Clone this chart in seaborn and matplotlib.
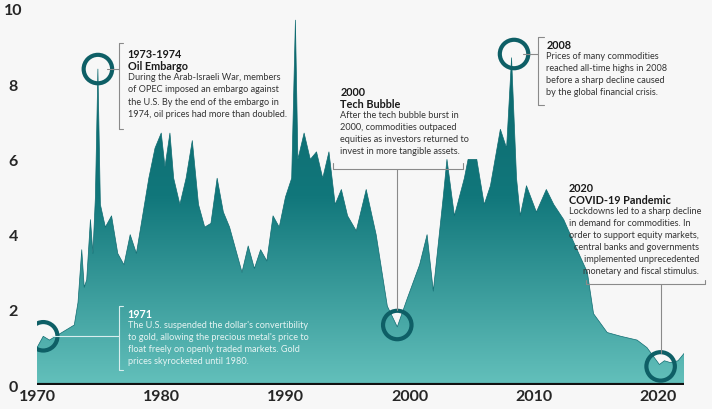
import numpy as np
import matplotlib.pyplot as plt
import seaborn as sns
from matplotlib.colors import LinearSegmentedColormap

# estimated index values
anos = [1970.0, 1970.5, 1971.0, 1971.5, 1972.0, 1972.5, 1973.0, 1973.3, 1973.6, 1973.8, 1974.0, 1974.3,
        1974.5, 1974.7, 1974.9, 1975.1, 1975.5, 1976.0, 1976.5, 1977.0, 1977.5, 1978.0, 1978.5,
        1979.0, 1979.5, 1980.0, 1980.3, 1980.7, 1981.0, 1981.5, 1982.0, 1982.5, 1983.0, 1983.5,
        1984.0, 1984.5, 1985.0, 1985.5, 1986.0, 1986.5, 1987.0, 1987.5, 1988.0, 1988.5, 1989.0,
        1989.5, 1990.0, 1990.5, 1990.8, 1991.0, 1991.5, 1992.0, 1992.5, 1993.0, 1993.5, 1994.0,
        1994.5, 1995.0, 1995.7, 1996.5, 1997.3, 1998.2, 1999.0, 1999.8, 2000.8, 2001.4, 2001.9,
        2002.7, 2003.0, 2003.6, 2004.4, 2004.7, 2005.4, 2006.0, 2006.5, 2007.3, 2007.8, 2008.2,
        2008.6, 2008.9, 2009.4, 2010.2, 2011.0, 2011.6, 2012.4, 2013.2, 2014.3, 2014.8, 2015.9,
        2017.0, 2018.3, 2019.1, 2020.1, 2020.5, 2021.0, 2021.6, 2022.1]
valores = [1.0, 1.3, 1.2, 1.3, 1.4, 1.5, 1.6, 2.2, 3.6, 2.6, 2.8, 4.4,
           3.5, 5.0, 8.4, 4.8, 4.2, 4.5, 3.5, 3.2, 4.0, 3.5, 4.5,
           5.5, 6.3, 6.7, 5.8, 6.7, 5.5, 4.8, 5.5, 6.5, 4.8, 4.2,
           4.3, 5.5, 4.6, 4.2, 3.6, 3.0, 3.7, 3.1, 3.6, 3.3, 4.5,
           4.2, 5.0, 5.5, 9.7, 6.0, 6.7, 6.0, 6.2, 5.5, 6.2, 4.8,
           5.2, 4.5, 4.1, 5.2, 4.0, 2.1, 1.55, 2.3, 3.2, 4.0, 2.5,
           5.0, 6.0, 4.5, 5.5, 6.0, 6.0, 4.8, 5.3, 6.8, 6.3, 8.7,
           5.5, 4.5, 5.3, 4.6, 5.2, 4.8, 4.4, 3.8, 3.0, 1.9, 1.4,
           1.3, 1.2, 1.0, 0.55, 0.65, 0.6, 0.65, 0.85]
ticks_x = [1970, 1980, 1990, 2000, 2010, 2020]
ticks_y = [0, 2, 4, 6, 8, 10]

escuro = "#0e5f66"
sns.set_theme(style="white", font="Lato")
fig = plt.figure(figsize=(7.12, 4.10), dpi=100, facecolor="#f7f7f7")
ax = fig.add_axes([0.052, 0.058, 0.909, 0.918])
ax.set_facecolor("#f7f7f7")
ax.set_xlim(1970, 2022.1)
ax.set_ylim(0, 10)

# area com gradiente
poligono = ax.fill_between(anos, valores, 0, color="none")
grad = np.linspace(0, 1, 256).reshape(-1, 1)
cmap = LinearSegmentedColormap.from_list("teal", ["#63c0bb", "#11777b", "#0c6469"])
img = ax.imshow(grad, cmap=cmap, extent=[1970, 2022.1, 0, 10], origin="lower", aspect="auto", zorder=1)
img.set_clip_path(poligono.get_paths()[0], transform=ax.transData)
sns.lineplot(x=anos, y=valores, ax=ax, color="#0f6c71", linewidth=0.5, zorder=2)

ax.axhline(0, color="#111111", linewidth=3, zorder=3)
for s in ax.spines.values():
    s.set_visible(False)
ax.set_xticks(ticks_x)
ax.set_yticks(ticks_y)
ax.tick_params(length=0, labelsize=11.5)
for t in ax.get_xticklabels() + ax.get_yticklabels():
    t.set_fontweight("bold")
ax.tick_params(axis="x", pad=3)
ax.tick_params(axis="y", pad=17)
for t in ax.get_yticklabels():
    t.set_horizontalalignment("center")

# anéis nos eventos
def anel_px(x, y):
    ax.scatter([x], [y], s=420, facecolors="none", edgecolors=escuro, linewidths=3, zorder=5)

anel_px(1970.5, 1.3)
anel_px(1974.9, 8.4)
anel_px(1999.0, 1.6)
anel_px(2008.4, 8.8)
anel_px(2020.2, 0.5)

def bloco(x, y, titulo, corpo, cor="#1a1a1a", cor_corpo="#333333", passo=0.32):
    linhas = titulo + corpo
    for i, l in enumerate(linhas):
        e_titulo = i < len(titulo)
        ax.text(x, y - i * passo, l, ha="left", va="top", fontsize=7.8 if e_titulo else 6.6,
                fontweight="bold" if e_titulo else "normal",
                color=cor if e_titulo else cor_corpo, zorder=6)

cinza = "#8a8a8a"
# 1973-1974
bloco(1977.3, 8.95, ["1973-1974", "Oil Embargo"],
      ["During the Arab-Israeli War, members", "of OPEC imposed an embargo against",
       "the U.S. By the end of the embargo in", "1974, oil prices had more than doubled."])
ax.plot([1976.9, 1976.6, 1976.6, 1976.9], [9.1, 9.1, 6.8, 6.8], color=cinza, lw=0.8, zorder=6)
ax.plot([1975.6, 1976.6], [8.4, 8.4], color=cinza, lw=0.8, zorder=6)

# 1971
bloco(1977.3, 2.05, ["1971"],
      ["The U.S. suspended the dollar's convertibility", "to gold, allowing the precious metal's price to",
       "float freely on openly traded markets. Gold", "prices skyrocketed until 1980."],
      cor="white", cor_corpo="#e6f4f3")
ax.plot([1976.9, 1976.6, 1976.6, 1976.9], [2.1, 2.1, 0.4, 0.4], color="#d8eeee", lw=0.8, zorder=6)
ax.plot([1971.2, 1976.6], [1.3, 1.3], color="#d8eeee", lw=0.8, zorder=6)

# 2000
bloco(1994.4, 7.95, ["2000", "Tech Bubble"],
      ["After the tech bubble burst in", "2000, commodities outpaced",
       "equities as investors returned to", "invest in more tangible assets."])
ax.plot([1993.8, 1993.8, 2004.3, 2004.3], [5.9, 5.75, 5.75, 5.9], color=cinza, lw=0.8, zorder=6)
ax.plot([1999.0, 1999.0], [5.75, 2.0], color=cinza, lw=0.8, zorder=6)

# 2008
bloco(2011.0, 9.2, ["2008"],
      ["Prices of many commodities", "reached all-time highs in 2008",
       "before a sharp decline caused", "by the global financial crisis."])
ax.plot([2010.8, 2010.3, 2010.3, 2010.8], [9.25, 9.25, 7.45, 7.45], color=cinza, lw=0.8, zorder=6)
ax.plot([2009.1, 2010.3], [8.8, 8.8], color=cinza, lw=0.8, zorder=6)

# 2020
corpo_2020 = ["Lockdowns led to a sharp decline", "in demand for commodities. In",
              "order to support equity markets,", "central banks and governments",
              "implemented unprecedented", "monetary and fiscal stimulus."]
bloco(2012.8, 5.4, ["2020", "COVID-19 Pandemic"], corpo_2020[:3])
for i, l in enumerate(corpo_2020[3:]):
    ax.text(2023.3, 5.4 - (5 + i) * 0.32, l, ha="right", va="top", fontsize=6.6,
            color="#333333", zorder=6, clip_on=False)
ax.plot([2014.2, 2014.2, 2023.8, 2023.8], [2.8, 2.68, 2.68, 2.8], color=cinza, lw=0.8, zorder=6, clip_on=False)
ax.plot([2020.2, 2020.2], [2.68, 0.85], color=cinza, lw=0.8, zorder=6)

plt.savefig("out.png", dpi=100, facecolor=fig.get_facecolor())
